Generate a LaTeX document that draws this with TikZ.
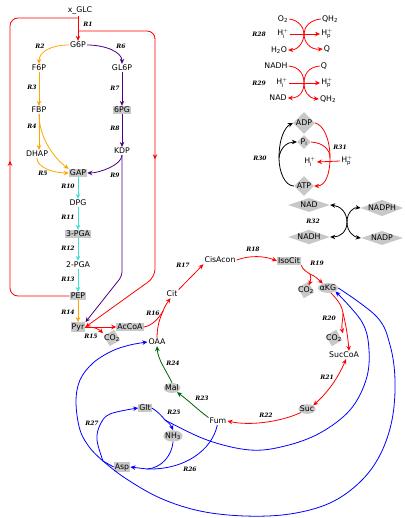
\documentclass[tikz,border=0pt]{standalone}
\usepackage{fontspec}
\setmainfont{DejaVu Sans}
\newfontfamily\rxnfont{DejaVu Serif}
\usetikzlibrary{arrows.meta,shapes.geometric,decorations.markings}
\definecolor{rxred}{RGB}{255,0,0}
\definecolor{rxorange}{RGB}{255,165,0}
\definecolor{rxindigo}{RGB}{75,0,130}
\definecolor{rxturq}{RGB}{64,224,208}
\definecolor{rxgreen}{RGB}{0,100,0}
\definecolor{rxblue}{RGB}{0,0,255}
\definecolor{metgray}{RGB}{200,200,200}
\pgfdeclarelayer{background}
\pgfsetlayers{background,main}
\begin{document}
\begin{tikzpicture}[x=1pt,y=-1pt,
      font=\fontsize{7.8}{9}\selectfont,
      met/.style={inner sep=1pt},
      boxmet/.style={met,fill=metgray},
      ellmet/.style={ellipse,fill=metgray,inner xsep=-1pt,inner ysep=0.5pt},
      diamet/.style={diamond,fill=metgray,inner sep=0pt,aspect=1},
      widemet/.style={diamond,fill=metgray,inner sep=0pt,aspect=2.6,minimum width=42pt,minimum height=14pt},
      tiltbg/.style={fill=metgray,inner sep=0pt,minimum size=12pt,rotate=30},
      rlab/.style={font=\rxnfont\bfseries\itshape\fontsize{6}{7}\selectfont},
      ln/.style={line width=0.8pt},
      arr/.style={ln,-{Stealth[length=5pt,width=4.5pt]}},
      darr/.style={ln,{Stealth[length=5pt,width=4.5pt]}-{Stealth[length=5pt,width=4.5pt]}},
      midarr/.style={postaction={decorate},decoration={markings,
        mark=at position #1 with {\arrow{Stealth[length=5pt,width=4.5pt]}}}}]
    \useasboundingbox (0,0) rectangle (404,518);
    % glycolysis and ED pathway
    \node[met] (xglc) at (80,11) {x\_GLC};
    \node[met] (g6p) at (78,45) {G6P};
    \node[met] (f6p) at (39,68) {F6P};
    \node[met] (gl6p) at (122,68) {GL6P};
    \node[met] (fbp) at (39,110) {FBP};
    \node[boxmet] (pg6) at (122,110) {6PG};
    \node[met] (dhap) at (37,154) {DHAP};
    \node[met] (kdp) at (122,151) {KDP};
    \node[boxmet] (gap) at (78,173) {GAP};
    \node[met] (dpg) at (78,203) {DPG};
    \node[boxmet] (pga3) at (78,234) {3-PGA};
    \node[met] (pga2) at (78,265) {2-PGA};
    \node[boxmet] (pep) at (78,296) {PEP};
    \node[boxmet] (pyr) at (78,327) {Pyr};
    % TCA cycle
    \node[boxmet] (accoa) at (130,327) {AcCoA};
    \node[met] (co2a) at (112,338) {CO\textsubscript{2}};
    \node[met] (oaa) at (157,342) {OAA};
    \node[met] (cit) at (172,294) {Cit};
    \node[met] (cisacon) at (220,260) {CisAcon};
    \node[boxmet] (isocit) at (289,261) {IsoCit};
    \node[met] (co2b) at (306,290) {CO\textsubscript{2}};
    \node[ellmet] (akg) at (328,288) {αKG};
    \node[met] (co2c) at (334,338) {CO\textsubscript{2}};
    \node[met] (succoa) at (344,355) {SucCoA};
    \node[ellmet] (suc) at (307,409) {Suc};
    \node[met] (fum) at (218,421) {Fum};
    \node[ellmet] (mal) at (172,388) {Mal};
    \node[boxmet] (glt) at (145,408) {Glt};
    \node[ellmet] (nh3) at (173,436) {NH\textsubscript{3}};
    \node[boxmet] (asp) at (122,467) {Asp};
    % respiration
    \node[met] (o2) at (283,19) {O\textsubscript{2}};
    \node[met] (qh2a) at (330,19) {QH\textsubscript{2}};
    \node[met] (hi1) at (283,34) {H$^+_\mathrm{i}$};
    \node[met] (hp1) at (327,34) {H$^+_\mathrm{p}$};
    \node[met] (h2o) at (279,50) {H\textsubscript{2}O};
    \node[met] (q1) at (327,49) {Q};
    \node[met] (nadh1) at (276,66) {NADH};
    \node[met] (q2) at (324,66) {Q};
    \node[met] (hi2) at (282,83) {H$^+_\mathrm{i}$};
    \node[met] (hp2) at (327,83) {H$^+_\mathrm{p}$};
    \node[met] (nad1) at (278,98) {NAD};
    \node[met] (qh2b) at (328,99) {QH\textsubscript{2}};
    \node[diamet] (adp) at (304,123) {ADP};
    \node[diamet] (phos) at (304,142) {P\textsubscript{i}};
    \node[met] (hi3) at (310,162) {H$^+_\mathrm{i}$};
    \node[met] (hp3) at (347,161) {H$^+_\mathrm{p}$};
    \node[diamet] (atp) at (304,186) {ATP};
    \node[widemet] (nad2) at (309,205) {NAD};
    \node[widemet] (nadh2) at (309,237) {NADH};
    \node[widemet] (nadph) at (382,208) {NADPH};
    \node[widemet] (nadp) at (382,238) {NADP};
    \begin{pgfonlayer}{background}
      \node[tiltbg] at (co2a) {};
      \node[tiltbg] at (co2b) {};
      \node[tiltbg] at (co2c) {};
    \end{pgfonlayer}
    % reaction labels
    \node[rlab] (r1) at (88,24) {R1};
    \node[rlab] (r2) at (40,46) {R2};
    \node[rlab] (r3) at (32,87) {R3};
    \node[rlab] (r4) at (32,126) {R4};
    \node[rlab] (r5) at (43,173) {R5};
    \node[rlab] (r6) at (121,46) {R6};
    \node[rlab] (r7) at (115,88) {R7};
    \node[rlab] (r8) at (115,128) {R8};
    \node[rlab] (r9) at (115,175) {R9};
    \node[rlab] (r10) at (68,186) {R10};
    \node[rlab] (r11) at (68,217) {R11};
    \node[rlab] (r12) at (68,248) {R12};
    \node[rlab] (r13) at (68,279) {R13};
    \node[rlab] (r14) at (68,312) {R14};
    \node[rlab] (r15) at (91,336) {R15};
    \node[rlab] (r16) at (153,313) {R16};
    \node[rlab] (r17) at (183,265) {R17};
    \node[rlab] (r18) at (253,249) {R18};
    \node[rlab] (r19) at (317,263) {R19};
    \node[rlab] (r20) at (329,318) {R20};
    \node[rlab] (r21) at (327,377) {R21};
    \node[rlab] (r22) at (266,415) {R22};
    \node[rlab] (r23) at (202,398) {R23};
    \node[rlab] (r24) at (173,363) {R24};
    \node[rlab] (r25) at (174,412) {R25};
    \node[rlab] (r26) at (190,469) {R26};
    \node[rlab] (r27) at (92,423) {R27};
    \node[rlab] (r28) at (259,34) {R28};
    \node[rlab] (r29) at (259,83) {R29};
    \node[rlab] (r30) at (260,158) {R30};
    \node[rlab] (r31) at (340,147) {R31};
    \node[rlab] (r32) at (313,221) {R32};
    % junction points
    \coordinate (jglc) at (78,18);
    \coordinate (jpts) at (78,31);
    \coordinate (j16) at (163,311);
    \coordinate (j19) at (310,274);
    \coordinate (j20) at (343,313);
    \coordinate (j25) at (165,420);
    \coordinate (j26) at (147,469);
    \coordinate (j27) at (103,461);
    \coordinate (x28) at (304,34);
    \coordinate (x29) at (304,83);
    \coordinate (j30) at (279,158);
    \coordinate (j31) at (330,158);
    \coordinate (x32) at (347,222);
    % R1 (PTS)
    \draw[arr,rxred] (g6p.north |- xglc.south) -- (g6p.north);
    \draw[ln,rxred,rounded corners=8pt,midarr=0.48] (pep.west) -| (10,18) -- (jglc);
    \draw[arr,rxred,rounded corners=8pt,midarr=0.5] (jpts) -- (155,31) -- (155,277) -- (pyr.east);
    % glycolysis
    \draw[arr,rxorange] (g6p.west) .. controls +(-18,0) and +(0,-12) .. (f6p.north);
    \draw[arr,rxorange] (f6p) -- (fbp);
    \draw[arr,rxorange] (fbp.south) -- (fbp.south |- dhap.north);
    \draw[arr,rxorange] (fbp.south) .. controls +(0,24) and +(-14,-10) .. (gap.north west);
    \draw[arr,rxorange] (dhap.south) .. controls +(0,10) and +(-14,0) .. (gap.west);
    \draw[arr,rxorange] (pep) -- (pyr);
    \draw[arr,rxturq] (gap) -- (dpg);
    \draw[arr,rxturq] (dpg) -- (pga3);
    \draw[arr,rxturq] (pga3) -- (pga2);
    \draw[arr,rxturq] (pga2) -- (pep);
    % ED pathway
    \draw[arr,rxindigo] (g6p.east) .. controls +(18,0) and +(0,-12) .. (gl6p.north);
    \draw[arr,rxindigo] (gl6p) -- (pg6);
    \draw[arr,rxindigo] (pg6) -- (kdp);
    \draw[arr,rxindigo] (kdp.south) .. controls +(0,10) and +(12,0) .. (gap.east);
    \draw[arr,rxindigo,rounded corners=4pt] (kdp.south) -- ++(0,121) -- (pyr.north east);
    % TCA cycle
    \draw[arr,rxred] (pyr.east) -- (accoa.west);
    \draw[arr,rxred] (pyr.east) .. controls +(10,0) and +(-4,-4) .. (co2a.north west);
    \draw[ln,rxred] (accoa.east) .. controls (152,326) and (159,318) .. (j16);
    \draw[ln,rxred] (oaa.north) .. controls (157,326) and (160,318) .. (j16);
    \draw[arr,rxred] (j16) .. controls (165,306) and (167,303) .. (cit.-110);
    \draw[arr,rxred] (cit.north east) .. controls (188,280) and (196,272) .. (cisacon.south west);
    \draw[arr,rxred] (cisacon.east) .. controls (250,255) and (265,256) .. (isocit.west);
    \draw[ln,rxred] (isocit.south east) .. controls (303,270) and (307,272) .. (j19);
    \draw[arr,rxred] (j19) .. controls (311,278) and (311,280) .. (co2b.60);
    \draw[arr,rxred] (j19) .. controls (315,276) and (318,279) .. (akg.140);
    \draw[ln,rxred] (akg.-60) .. controls (338,300) and (342,306) .. (j20);
    \draw[arr,rxred] (j20) .. controls (343,320) and (341,326) .. (co2c.north east);
    \draw[arr,rxred] (j20) .. controls (346,325) and (348,338) .. ([xshift=5pt]succoa.north);
    \draw[darr,rxred] ([xshift=2pt]succoa.south) .. controls (338,378) and (328,392) .. (suc.30);
    \draw[arr,rxred] (suc.-150) .. controls (280,422) and (250,426) .. (fum.east);
    \draw[arr,rxgreen] (fum.160) .. controls (198,410) and (188,400) .. (mal.-40);
    \draw[arr,rxgreen] (mal.north) .. controls (166,370) and (158,360) .. (oaa.south);
    % amino acids
    \draw[ln,rxblue] (glt.east) .. controls (157,411) and (162,416) .. (j25);
    \draw[arr,rxblue] (j25) .. controls (169,423) and (171,425) .. (nh3.north);
    \draw[arr,rxblue] plot[smooth,tension=0.6] coordinates {(j25) (207,440) (250,450) (285,446) (320,433) (350,410) (366,380) (369,350) (362,322) (akg.-25)};
    \draw[ln,rxblue] (fum.-100) .. controls (212,450) and (185,470) .. (j26);
    \draw[ln,rxblue] (nh3.south) .. controls (172,455) and (162,468) .. (j26);
    \draw[arr,rxblue] (j26) -- (asp.east);
    \draw[ln,rxblue] (asp.west) -- (j27);
    \draw[ln,rxblue] plot[smooth,tension=0.6] coordinates {(akg.east) (377,317) (390,345) (395,380) (392,420) (380,455) (360,482) (330,503) (290,514) (245,516) (200,511) (160,498) (125,478) (j27)};
    \draw[arr,rxblue] plot[smooth,tension=0.6] coordinates {(j27) (90,448) (80,430) (76,402) (80,380) (93,363) (112,351) (130,345) (oaa.west)};
    \draw[arr,rxblue] plot[smooth,tension=0.6] coordinates {(j27) (97,440) (100,425) (110,414) (glt.west)};
    % respiration
    \draw[arr,rxred] (o2.east) .. controls (298,20) and (304,27) .. (x28) .. controls (304,42) and (298,50) .. (h2o.east);
    \draw[arr,rxred] (qh2a.west) .. controls (310,20) and (304,27) .. (x28) .. controls (304,42) and (310,50) .. (q1.west);
    \draw[arr,rxred] (hi1.east) -- (hp1.west);
    \draw[arr,rxred] (nadh1.east) .. controls (300,67) and (304,75) .. (x29) .. controls (304,91) and (300,98) .. (nad1.east);
    \draw[arr,rxred] (q2.west) .. controls (308,67) and (304,75) .. (x29) .. controls (304,91) and (308,98) .. (qh2b.west);
    \draw[arr,rxred] (hi2.east) -- (hp2.west);
    % ATP synthase and transhydrogenase
    \draw[ln] (atp.west) .. controls (285,186) and (279,172) .. (j30);
    \draw[arr] (j30) .. controls (279,138) and (285,127) .. (adp.west);
    \draw[arr] (j30) .. controls (280,148) and (287,142) .. (phos.west);
    \draw[ln,rxred] (adp.east) .. controls (324,125) and (330,140) .. (j31);
    \draw[ln,rxred] (phos.east) .. controls (324,143) and (330,150) .. (j31);
    \draw[arr,rxred] (j31) .. controls (330,175) and (325,186) .. (atp.east);
    \draw[arr,rxred] (hp3.west) -- (hi3.east);
    \draw[darr] (nad2.east) .. controls (340,206) and (347,212) .. (x32) .. controls (347,232) and (340,237) .. (nadh2.east);
    \draw[darr] (nadph.west) .. controls (354,207) and (347,212) .. (x32) .. controls (347,232) and (354,237) .. (nadp.west);
  \end{tikzpicture}
\end{document}
